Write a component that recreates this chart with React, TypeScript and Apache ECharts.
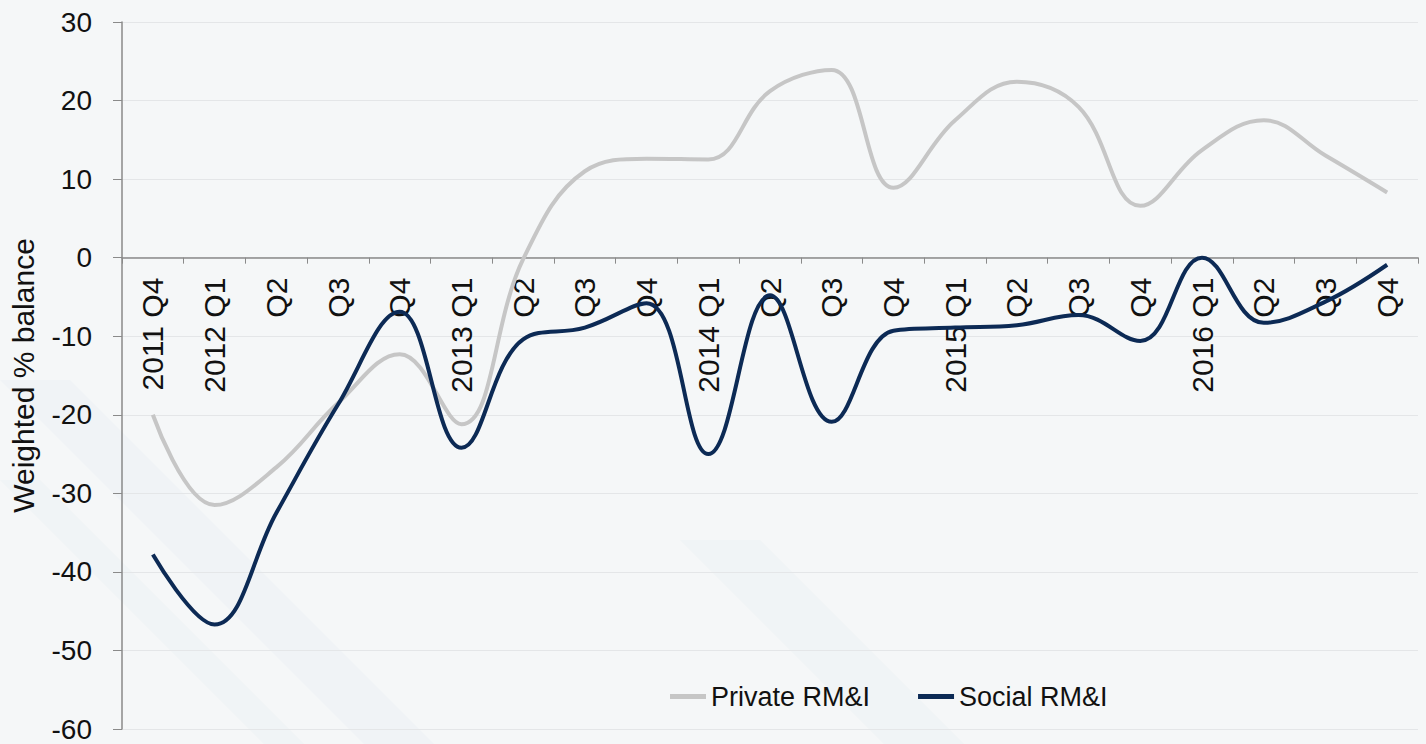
import React, { useEffect, useRef } from "react";
import * as echarts from "echarts";

const categories = [
  "2011 Q4", "2012 Q1", "Q2", "Q3", "Q4",
  "2013 Q1", "Q2", "Q3", "Q4",
  "2014 Q1", "Q2", "Q3", "Q4",
  "2015 Q1", "Q2", "Q3", "Q4",
  "2016 Q1", "Q2", "Q3", "Q4",
];

const privateRMI = [
  -20, -31.5, -26.7, -18.5, -12.3,
  -21.2, -0.2, 11, 12.6,
  12.5, 21.2, 23.9, 8.9,
  17.5, 22.4, 19.2, 6.6,
  13.7, 17.5, 13, 8.3,
];

const socialRMI = [
  -37.8, -46.7, -32.5, -18.7, -6.9,
  -24.2, -10.4, -8.9, -5.8,
  -25, -4.8, -20.9, -9.3,
  -8.9, -8.6, -7.3, -10.6,
  0, -8.3, -5.6, -0.9,
];

const yTicks = { min: -60, max: 30, interval: 10 };

const FONT = "Liberation Sans, Arial, sans-serif";

export default function App() {
  const ref = useRef<HTMLDivElement>(null);
  useEffect(() => {
    document.body.style.margin = "0";
    if (!ref.current) return;
    const chart = echarts.init(ref.current, undefined, { renderer: "svg" });
    const top = 22;
    const bottom = 15;
    const plotH = 744 - top - bottom;
    const zeroOffset = (plotH * (0 - yTicks.min)) / (yTicks.max - yTicks.min);
    chart.setOption({
      animation: false,
      backgroundColor: "#f5f7f8",
      textStyle: { fontFamily: FONT },
      graphic: [
        {
          type: "polygon",
          silent: true,
          z: -10,
          shape: { points: [[0, 380], [70, 380], [434, 744], [364, 744]] },
          style: { fill: "rgba(225,235,242,0.28)" },
        },
        {
          type: "polygon",
          silent: true,
          z: -10,
          shape: { points: [[0, 480], [40, 480], [304, 744], [264, 744]] },
          style: { fill: "rgba(225,235,242,0.22)" },
        },
        {
          type: "polygon",
          silent: true,
          z: -10,
          shape: { points: [[680, 540], [760, 540], [964, 744], [884, 744]] },
          style: { fill: "rgba(225,235,242,0.22)" },
        },
      ],
      grid: { left: 116, right: 8, top, bottom, containLabel: false },
      legend: {
        left: 665,
        top: 678,
        itemWidth: 36,
        itemHeight: 5,
        itemGap: 48,
        icon: "rect",
        textStyle: { fontSize: 27, color: "#111", fontFamily: FONT },
        data: ["Private RM&I", "Social RM&I"],
      },
      xAxis: {
        type: "category",
        data: categories,
        boundaryGap: true,
        position: "bottom",
        offset: -zeroOffset,
        axisLine: { onZero: false, lineStyle: { color: "#8a8a8a", width: 1.5 } },
        axisTick: { show: true, length: 6, lineStyle: { color: "#8a8a8a" } },
        axisLabel: {
          rotate: 90,
          fontSize: 30,
          color: "#111",
          margin: 20,
          interval: 0,
        },
        splitLine: { show: false },
      },
      yAxis: {
        type: "value",
        min: yTicks.min,
        max: yTicks.max,
        interval: yTicks.interval,
        name: "Weighted % balance",
        nameLocation: "middle",
        nameGap: 84,
        nameRotate: 90,
        nameTextStyle: { fontSize: 30, color: "#111" },
        axisLine: { show: true, lineStyle: { color: "#8a8a8a", width: 1.5 } },
        axisTick: { show: true, length: 9, lineStyle: { color: "#8a8a8a" } },
        axisLabel: { fontSize: 28, color: "#111", margin: 30 },
        splitLine: { show: true, lineStyle: { color: "#e4e6e8", width: 1 } },
      },
      series: [
        {
          name: "Private RM&I",
          type: "line",
          data: privateRMI,
          smooth: 0.4,
          symbol: "none",
          itemStyle: { color: "#c6c6c6" },
          lineStyle: { color: "#c6c6c6", width: 4 },
          z: 2,
        },
        {
          name: "Social RM&I",
          type: "line",
          data: socialRMI,
          smooth: 0.4,
          symbol: "none",
          itemStyle: { color: "#0c2a55" },
          lineStyle: { color: "#0c2a55", width: 4 },
          z: 3,
        },
      ],
    });
    return () => chart.dispose();
  }, []);
  return <div ref={ref} style={{ width: 1426, height: 744 }} />;
}
